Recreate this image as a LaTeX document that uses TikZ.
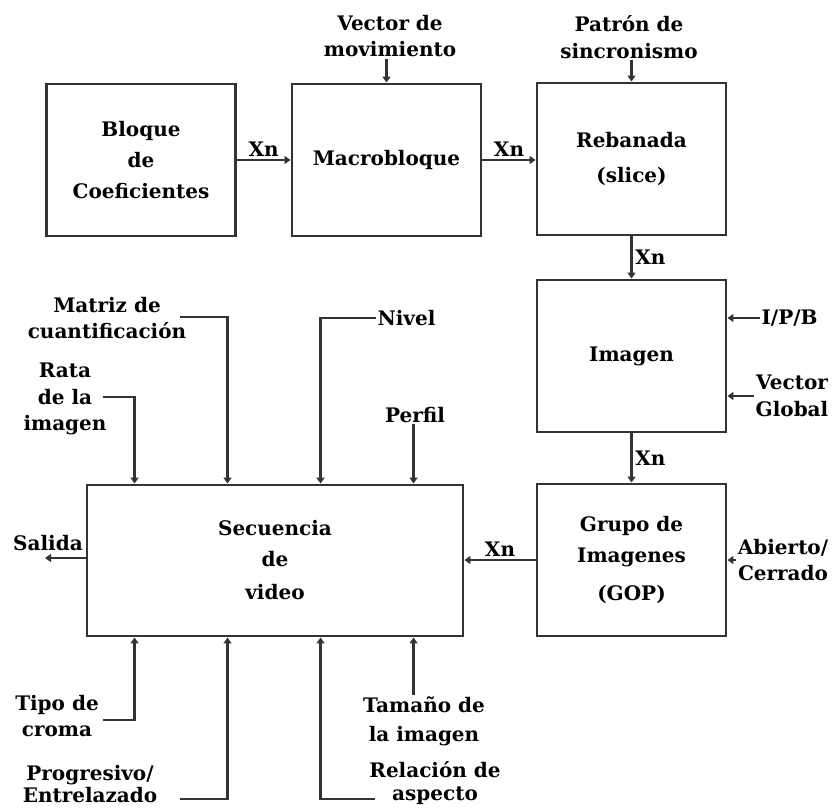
\documentclass[tikz,border=0pt]{standalone}
\usepackage{fontspec}
\setmainfont{DejaVu Serif}
\usetikzlibrary{arrows.meta}
\begin{document}
\begin{tikzpicture}[x=0.75pt,y=-0.75pt,
  every node/.style={font=\bfseries\fontsize{15}{20}\selectfont, text=black},
  blk/.style={draw=black!80, line width=2.2pt, minimum width=141.75pt,
              minimum height=114pt, align=center, inner sep=0pt,
              font=\bfseries\fontsize{15}{23}\selectfont},
  lbl/.style={align=center, inner sep=1pt},
  conn/.style={draw=black!80, line width=1.8pt},
  arr/.style={conn, -{Triangle[length=4.5pt,width=6pt]}},
  xn/.style={inner sep=2pt}]
\useasboundingbox (0,0) rectangle (837,808);

% processing blocks
\node[blk] (blq) at (141,160) {Bloque\\de\\Coeficientes};
\node[blk] (mac) at (386.5,160) {Macrobloque};
\node[blk] (reb) at (631.5,159) {Rebanada\\[3pt](slice)};
\node[blk] (img) at (631.5,356) {Imagen};
\node[blk] (grp) at (631.5,560) {Grupo de\\Imagenes\\[6pt](GOP)};
\node[blk, minimum width=282pt, minimum height=113.25pt] (sec) at (275,560.5)
  {Secuencia\\de\\[2pt]video};

% main chain
\draw[arr] (blq.east) -- node[xn,above]{Xn} (mac.west);
\draw[arr] (mac.east) -- node[xn,above]{Xn} (mac.east -| reb.west);
\draw[arr] (reb.south) -- node[xn,right]{Xn} (img.north);
\draw[arr] (img.south) -- node[xn,right]{Xn} (grp.north);
\draw[arr] (grp.west) -- node[xn,above]{Xn} (grp.west -| sec.east);

% parameters of the upper blocks
\node[lbl] (vm) at (390,36) {Vector de\\movimiento};
\draw[arr] (vm.south -| mac.north) -- (mac.north);
\node[lbl] (pat) at (629,37) {Patrón de\\sincronismo};
\draw[arr] (pat.south -| reb.north) -- (reb.north);
\node[lbl, anchor=west] (ipb) at (760,318) {I/P/B};
\draw[arr] (ipb.west) -- (ipb.west -| img.east);
\node[lbl] (vg) at (792,396) {Vector\\Global};
\draw[arr] (vg.west) -- (vg.west -| img.east);
\node[lbl] (ab) at (783,560) {Abierto/\\Cerrado};
\draw[arr] (ab.west) -- (ab.west -| grp.east);

% attach points on the sequence block
\path (sec.north west) ++(49,0) coordinate (t1) ++(93,0) coordinate (t2)
      ++(93,0) coordinate (t3) ++(93,0) coordinate (t4);
\path (sec.south west) ++(49,0) coordinate (b1) ++(93,0) coordinate (b2)
      ++(93,0) coordinate (b3) ++(93,0) coordinate (b4);

% parameters from above
\node[lbl] (rata) at (65,399) {Rata\\de la\\imagen};
\coordinate (rataend) at (103,397);
\draw[arr] (rataend) -| (t1);
\node[lbl] (matriz) at (107,318) {Matriz de\\cuantificación};
\coordinate (matrizend) at (180,317);
\draw[arr] (matrizend) -| (t2);
\node[lbl, anchor=west] (nivel) at (376,318) {Nivel};
\draw[arr] (nivel.west) -| (t3);
\node[lbl] (perfil) at (415,415) {Perfil};
\draw[arr] (perfil.south -| t4) -- (t4);

% parameters from below
\node[lbl] (tipo) at (57,716) {Tipo de\\croma};
\coordinate (tipoend) at (103,720);
\draw[arr] (tipoend) -| (b1);
\node[lbl] (prog) at (90,784) {Progresivo/\\[-3pt]Entrelazado};
\coordinate (progend) at (180,799);
\draw[arr] (progend) -| (b2);
\node[lbl] (rel) at (435,783) {Relación de\\[-3pt]aspecto};
\coordinate (relend) at (375,799);
\draw[arr] (relend) -| (b3);
\node[lbl] (tam) at (424,721) {Tamaño de\\[2pt]la imagen};
\draw[arr] (tam.north -| b4) -- (b4);

% output
\node[lbl] (sal) at (48,543) {Salida};
\coordinate (salend) at (45,558);
\draw[arr] (sec.west |- salend) -- (salend);
\end{tikzpicture}
\end{document}
